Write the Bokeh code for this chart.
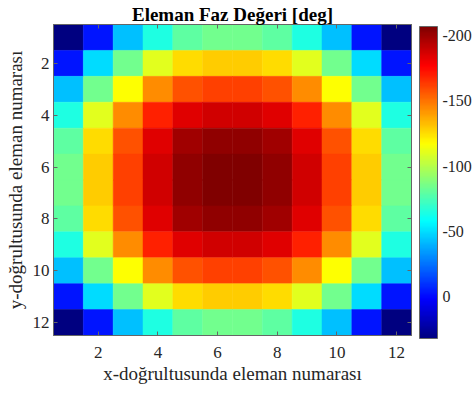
import numpy as np
from bokeh.plotting import figure
from bokeh.models import (LinearColorMapper, ColorBar, FixedTicker, Range1d, LinearAxis,
                          ColumnDataSource, CustomLabelingPolicy)
from bokeh.transform import transform
from bokeh.embed import file_html
from bokeh.resources import INLINE

title_text = "Eleman Faz Değeri [deg]"
x_label = "x-doğrultusunda eleman numarası"
y_label = "y-doğrultusunda eleman numarası"
x_elements = list(range(1, 13))
y_elements = list(range(1, 13))
axis_ticks = [2, 4, 6, 8, 10, 12]
cbar_ticks = [-200, -150, -100, -50, 0]
cbar_tick_labels = ["-200", "-150", "-100", "-50", "0"]
cbar_blue_end = 32     # value at dark-blue end of colour bar (bottom)
cbar_red_end = -207    # value at dark-red end of colour bar (top)

# phase values [deg], row = y element (1 at top), column = x element
row_01 = [32, -3, -43, -65, -80, -84, -84, -80, -65, -43, -3, 32]
row_02 = [-3, -50, -84, -110, -125, -129, -129, -125, -110, -84, -50, -3]
row_03 = [-43, -84, -117, -144, -158, -162, -162, -158, -144, -117, -84, -43]
row_04 = [-65, -110, -144, -169, -184, -188, -188, -184, -169, -144, -110, -65]
row_05 = [-80, -125, -158, -184, -199, -203, -203, -199, -184, -158, -125, -80]
row_06 = [-84, -129, -162, -188, -203, -207, -207, -203, -188, -162, -129, -84]
row_07 = [-84, -129, -162, -188, -203, -207, -207, -203, -188, -162, -129, -84]
row_08 = [-80, -125, -158, -184, -199, -203, -203, -199, -184, -158, -125, -80]
row_09 = [-65, -110, -144, -169, -184, -188, -188, -184, -169, -144, -110, -65]
row_10 = [-43, -84, -117, -144, -158, -162, -162, -158, -144, -117, -84, -43]
row_11 = [-3, -50, -84, -110, -125, -129, -129, -125, -110, -84, -50, -3]
row_12 = [32, -3, -43, -65, -80, -84, -84, -80, -65, -43, -3, 32]
phase_rows = [row_01, row_02, row_03, row_04, row_05, row_06,
              row_07, row_08, row_09, row_10, row_11, row_12]


def jet(n=256):
    t = np.linspace(0, 1, n)
    r = np.clip(1.5 - np.abs(4 * t - 3), 0, 1)
    g = np.clip(1.5 - np.abs(4 * t - 2), 0, 1)
    b = np.clip(1.5 - np.abs(4 * t - 1), 0, 1)
    return ["#%02x%02x%02x" % (int(round(a * 255)), int(round(c * 255)), int(round(d * 255)))
            for a, c, d in zip(r, g, b)]


xs, ys, vals = [], [], []
for yi, row in zip(y_elements, phase_rows):
    for xi, v in zip(x_elements, row):
        xs.append(xi)
        ys.append(yi)
        vals.append(v)
src = ColumnDataSource(dict(x=xs, y=ys, v=vals))

mapper = LinearColorMapper(palette=jet(256), low=cbar_blue_end, high=cbar_red_end)

SERIF = "Liberation Serif"
p = figure(width=476, height=394, output_backend="svg", toolbar_location=None,
           x_range=Range1d(0.5, 12.5), y_range=Range1d(12.5, 0.5),
           min_border_left=53, min_border_right=65, min_border_top=24, min_border_bottom=59,
           x_axis_label=x_label, y_axis_label=y_label)
p.rect(x="x", y="y", width=1, height=1, source=src,
       fill_color=transform("v", mapper), line_color=transform("v", mapper), line_width=0.5)

p.title.text = title_text
p.title.align = "center"
p.title.text_font = SERIF
p.title.text_font_size = "19px"
p.title.text_font_style = "bold"
p.title.text_color = "black"
p.title.standoff = 0
p.title.offset = 0

p.xgrid.visible = False
p.ygrid.visible = False
p.outline_line_color = "#666666"
p.background_fill_color = "white"
p.border_fill_color = "white"

for ax in (p.xaxis[0], p.yaxis[0]):
    ax.ticker = FixedTicker(ticks=axis_ticks)
    ax.major_tick_in = 4
    ax.major_tick_out = 0
    ax.minor_tick_line_color = None
    ax.axis_line_color = "#666666"
    ax.major_tick_line_color = "#666666"
    ax.major_label_text_font = SERIF
    ax.major_label_text_font_size = "17px"
    ax.major_label_text_color = "#262626"
    ax.axis_label_text_font = SERIF
    ax.axis_label_text_font_size = "19px"
    ax.axis_label_text_font_style = "normal"
    ax.axis_label_text_color = "#262626"
p.xaxis[0].major_label_standoff = 11
p.xaxis[0].axis_label_standoff = 2
p.yaxis[0].major_label_standoff = 4
p.yaxis[0].axis_label_standoff = 4

hide_all = CustomLabelingPolicy(code="return new Set()")
for loc in ("above", "right"):
    ax = LinearAxis(ticker=FixedTicker(ticks=axis_ticks), major_tick_in=4, major_tick_out=0,
                    minor_tick_line_color=None, axis_line_color="#666666",
                    major_tick_line_color="#666666", major_label_text_font_size="0px",
                    major_label_standoff=0, major_label_policy=hide_all)
    p.add_layout(ax, loc)

cbar = ColorBar(color_mapper=mapper, ticker=FixedTicker(ticks=cbar_ticks),
                major_label_overrides=dict(zip(cbar_ticks, cbar_tick_labels)),
                width=18, height=312, padding=0, margin=0, location=(8, -3),
                bar_line_color="#666666", major_tick_line_color=None,
                major_label_text_font=SERIF, major_label_text_font_size="16px",
                major_label_text_color="#262626", label_standoff=5,
                background_fill_color=None, border_line_color=None)
p.add_layout(cbar, "right")

open("out.html", "w").write(file_html(p, INLINE))
